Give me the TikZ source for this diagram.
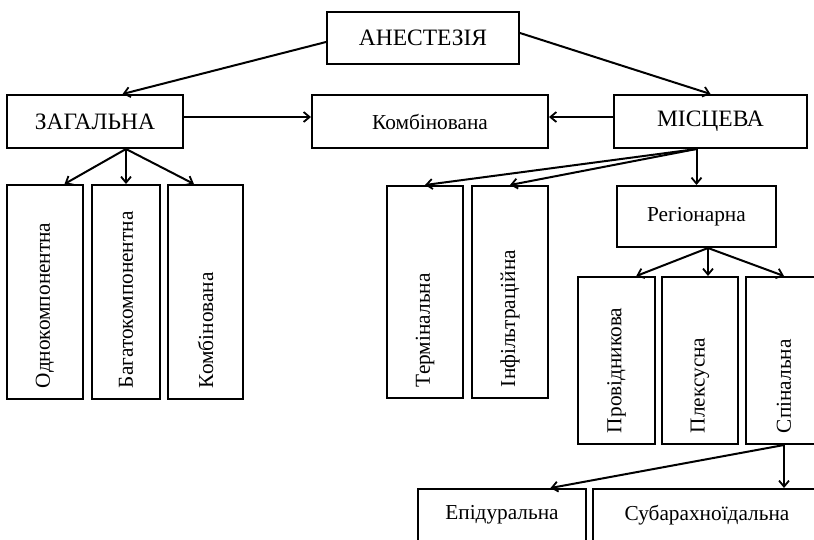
\documentclass[tikz,border=0pt]{standalone}
\usepackage{fontspec}
\setmainfont{Liberation Serif}
\usetikzlibrary{calc,arrows.meta}

\begin{document}
\begin{tikzpicture}[x=1pt,y=-1pt,line width=2pt,>={Straight Barb[length=6pt,width=10pt,line width=1.8pt]}]
\newcommand{\bigsize}{\fontsize{23.5}{28}\selectfont}
\newcommand{\smallsize}{\fontsize{21.3}{25}\selectfont}
\useasboundingbox (0,0) rectangle (814,539);
\clip (0,0) rectangle (814,539);
\begin{scope}[shape=rectangle,inner sep=0pt]
\tikzstyle{every node}=[draw]
\tikzset{hbox/.style 2 args={minimum width=#1,minimum height=#2,font=\smallsize},
  vbox/.style 2 args={rotate=90,minimum height=#1,text width=#2,align=left,inner xsep=11pt,font=\smallsize}}
\node[hbox={192pt}{52pt},font=\bigsize] (anest) at (423,38) {АНЕСТЕЗІЯ};
\node[hbox={176pt}{53pt},font=\bigsize] (zag) at (95,121.5) {ЗАГАЛЬНА};
\node[hbox={236pt}{53pt}] (komb) at (430,121.5) {Комбінована};
\node[hbox={193pt}{53pt},font=\bigsize] (misc) at (710.5,121.5) {МІСЦЕВА};
\node[vbox={76pt}{192pt}] (odno) at (45,292) {Однокомпонентна};
\node[vbox={68pt}{192pt}] (bagat) at (126,292) {Багатокомпонентна};
\node[vbox={75pt}{192pt}] (kombo) at (205.5,292) {Комбінована};
\node[vbox={76pt}{190pt}] (term) at (425,292) {Термінальна};
\node[vbox={76pt}{190pt}] (infil) at (510,292) {Інфільтраційна};
\node[hbox={159pt}{61pt}] (region) at (696.5,216.5) {Регіонарна};
\node[vbox={77pt}{145pt}] (prov) at (616.5,360.5) {Провідникова};
\node[vbox={76pt}{145pt}] (plex) at (700,360.5) {Плексусна};
\node[vbox={76pt}{145pt}] (spin) at (784,360.5) {Спінальна};
\node[hbox={168pt}{52pt}] (epid) at (502,515) {Епідуральна};
\node[hbox={228pt}{52pt}] (subar) at (707,515) {Субарахноїдальна};
% vertical boxes are turned: east is their top, west their bottom
\coordinate (regsrc) at ($(region.south)+(11.5,0)$);
\draw [->] ([yshift=-4pt]anest.west) -- ($(zag.north)!0.31!(zag.north east)$);
\draw [->] ([yshift=5pt]anest.east) -- (misc.north);
\draw [->] ([yshift=4.5pt]zag.east) -- ([yshift=4.5pt]komb.west);
\draw [->] ([yshift=4.5pt]misc.west) -- ([yshift=4.5pt]komb.east);
\draw [->] (bagat.east |- zag.south) -- ($(odno.east)!0.5!(odno.south east)$);
\draw [->] (bagat.east |- zag.south) -- (bagat.east);
\draw [->] (bagat.east |- zag.south) -- ($(kombo.north east)!0.7!(kombo.east)$);
\draw [->] (region.north |- misc.south) -- (term.east);
\draw [->] (region.north |- misc.south) -- (infil.east);
\draw [->] (region.north |- misc.south) -- (region.north);
\draw [->] (regsrc) -- ($(prov.east)!0.5!(prov.south east)$);
\draw [->] (regsrc) -- (regsrc |- plex.east);
\draw [->] (regsrc) -- (spin.east);
\draw [->] (spin.west) -- ($(epid.north)!0.57!(epid.north east)$);
\draw [->] (spin.west) -- (spin.west |- subar.north);
\end{scope}
\end{tikzpicture}
\end{document}
